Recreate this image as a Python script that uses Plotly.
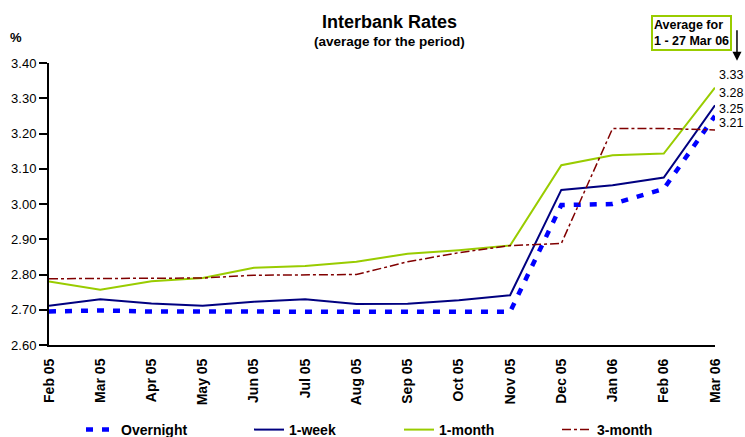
import plotly.graph_objects as go

months = ["Feb 05", "Mar 05", "Apr 05", "May 05", "Jun 05", "Jul 05", "Aug 05",
          "Sep 05", "Oct 05", "Nov 05", "Dec 05", "Jan 06", "Feb 06", "Mar 06"]
overnight = [2.695, 2.698, 2.695, 2.695, 2.695, 2.695, 2.695, 2.695, 2.692, 2.694,
             2.997, 3.000, 3.043, 3.25]
one_week = [2.711, 2.730, 2.718, 2.711, 2.723, 2.730, 2.716, 2.717, 2.727, 2.741,
            3.040, 3.053, 3.075, 3.28]
one_month = [2.780, 2.757, 2.781, 2.790, 2.819, 2.824, 2.836, 2.859, 2.869, 2.882,
             3.110, 3.138, 3.143, 3.33]
three_month = [2.788, 2.788, 2.789, 2.790, 2.798, 2.800, 2.800, 2.836, 2.862, 2.882,
               2.888, 3.214, 3.214, 3.21]
end_labels = ["3.33", "3.28", "3.25", "3.21"]
y_ticks = [2.60, 2.70, 2.80, 2.90, 3.00, 3.10, 3.20, 3.30, 3.40]

FONT = "Liberation Sans, Arial, sans-serif"
W, H = 745, 437

fig = go.Figure()
fig.add_trace(go.Scatter(x=months, y=overnight, mode="lines", name="<b>Overnight</b>",
                         legend="legend",
                         line=dict(color="#0000FF", width=4.5, dash="7px,9px")))
fig.add_trace(go.Scatter(x=months, y=one_week, mode="lines", name="<b>1-week</b>",
                         legend="legend2",
                         line=dict(color="#000080", width=2)))
fig.add_trace(go.Scatter(x=months, y=one_month, mode="lines", name="<b>1-month</b>",
                         legend="legend3",
                         line=dict(color="#99CC00", width=2)))
fig.add_trace(go.Scatter(x=months, y=three_month, mode="lines", name="<b>3-month</b>",
                         legend="legend4",
                         line=dict(color="#800000", width=1.5, dash="dashdot")))

ann = []
ann.append(dict(text="<b>Interbank Rates</b>", xref="paper", yref="paper", x=0.512, y=1.145,
                xanchor="center", yanchor="middle", showarrow=False,
                font=dict(family=FONT, size=18, color="black")))
ann.append(dict(text="<b>(average for the period)</b>", xref="paper", yref="paper", x=0.512, y=1.077,
                xanchor="center", yanchor="middle", showarrow=False,
                font=dict(family=FONT, size=13.5, color="black")))
ann.append(dict(text="<b>%</b>", xref="paper", yref="paper", x=-0.049, y=1.089,
                xanchor="center", yanchor="middle", showarrow=False,
                font=dict(family=FONT, size=13, color="black")))
ann.append(dict(text="<b>Average for<br>1 - 27 Mar 06</b>", xref="paper", yref="paper",
                x=0.964, y=1.106, xanchor="center", yanchor="middle", showarrow=False,
                align="left", bordercolor="#99CC00", borderwidth=2, borderpad=1,
                bgcolor="white", font=dict(family=FONT, size=12.5, color="black")))
ann.append(dict(text="", xref="paper", yref="paper", x=1.033, y=1.008,
                showarrow=True, ax=0, ay=-32, arrowhead=2, arrowsize=1.2,
                arrowwidth=1.5, arrowcolor="black"))
label_y = [0.957, 0.894, 0.837, 0.787]
for t, yy in zip(end_labels, label_y):
    ann.append(dict(text=t, xref="paper", yref="paper", x=1.0443, y=yy,
                    xanchor="right", yanchor="middle", showarrow=False,
                    font=dict(family=FONT, size=12.5, color="black")))

def leg(px):
    return dict(orientation="h", xref="container", yref="container",
                x=px / W, xanchor="left", y=7 / H, yanchor="middle",
                font=dict(family=FONT, size=14, color="black"),
                bgcolor="rgba(0,0,0,0)")

fig.update_layout(
    width=W, height=H,
    margin=dict(l=49, r=30, t=63, b=92, autoexpand=False),
    paper_bgcolor="white", plot_bgcolor="white",
    font=dict(family=FONT, color="black"),
    annotations=ann,
    showlegend=True,
    legend=leg(81), legend2=leg(249), legend3=leg(399), legend4=leg(557),
    xaxis=dict(type="category", range=[0, 13], showgrid=False, zeroline=False,
               automargin=False,
               showline=True, linecolor="black", linewidth=2,
               tickangle=-90, ticks="", ticklabelstandoff=6,
               tickfont=dict(family=FONT, size=14, color="black"),
               tickprefix="<b>", ticksuffix="</b>"),
    yaxis=dict(range=[2.60, 3.40], tickvals=y_ticks, tickformat=".2f",
               automargin=False,
               showgrid=False, zeroline=False, showline=True, linecolor="black",
               linewidth=2, ticks="outside", ticklen=8, tickwidth=1.5, tickcolor="black",
               tickfont=dict(family=FONT, size=13, color="black"),
               tickprefix="<b>", ticksuffix="</b>"),
)

fig.write_html("out.html", config={"displayModeBar": False},
               post_script="document.body.style.margin='0';document.body.style.overflow='hidden';")
